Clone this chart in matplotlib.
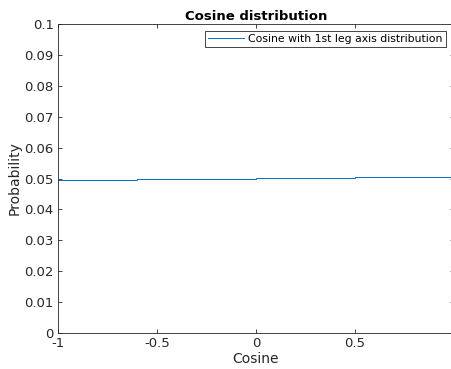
import numpy as np
import matplotlib
matplotlib.use('Agg')
import matplotlib.pyplot as plt

# DATA (step levels)
BIN_EDGES = [-1.0, -0.6, 0.0, 0.5, 0.7, 0.8, 1.0]
PROB = [0.0495, 0.0498, 0.0501, 0.0504, 0.0506, 0.0504]
X_TICKS = [-1, -0.5, 0, 0.5]
X_TICK_LABELS = ['-1', '-0.5', '0', '0.5']
Y_TICKS = [0, 0.01, 0.02, 0.03, 0.04, 0.05, 0.06, 0.07, 0.08, 0.09, 0.1]
Y_TICK_LABELS = ['0', '0.01', '0.02', '0.03', '0.04', '0.05', '0.06', '0.07', '0.08', '0.09', '0.1']

AX_COL = '#262626'

fig = plt.figure(figsize=(4.52, 3.69), dpi=100)
ax = fig.add_axes([0.128, 0.0976, 0.876, 0.837])

ax.stairs(PROB, BIN_EDGES, baseline=None, color='#0072BD', linewidth=0.7,
          label='Cosine with 1st leg axis distribution')

ax.set_xlim(-1, 1)
ax.set_ylim(0, 0.1)
ax.set_xticks(X_TICKS)
ax.set_xticklabels(X_TICK_LABELS)
ax.set_yticks(Y_TICKS)
ax.set_yticklabels(Y_TICK_LABELS)
ax.tick_params(direction='in', length=3, width=0.6, colors=AX_COL,
               labelsize=9.5, top=True, right=True, pad=3)
for sp in ax.spines.values():
    sp.set_color(AX_COL)
    sp.set_linewidth(0.6)

ax.set_xlabel('Cosine', fontsize=10, color=AX_COL, labelpad=1)
ax.set_ylabel('Probability', fontsize=10, color=AX_COL, labelpad=2)
ax.set_title('Cosine distribution', fontsize=9.5, fontweight='bold', pad=3)

leg = ax.legend(loc='upper right', bbox_to_anchor=(0.985, 0.985), fontsize=7.8,
                fancybox=False, framealpha=1, edgecolor=AX_COL,
                handlelength=3.3, handletextpad=0.4, borderpad=0.3,
                borderaxespad=0.2)
leg.get_frame().set_linewidth(0.6)

fig.savefig('out.png', dpi=100)
